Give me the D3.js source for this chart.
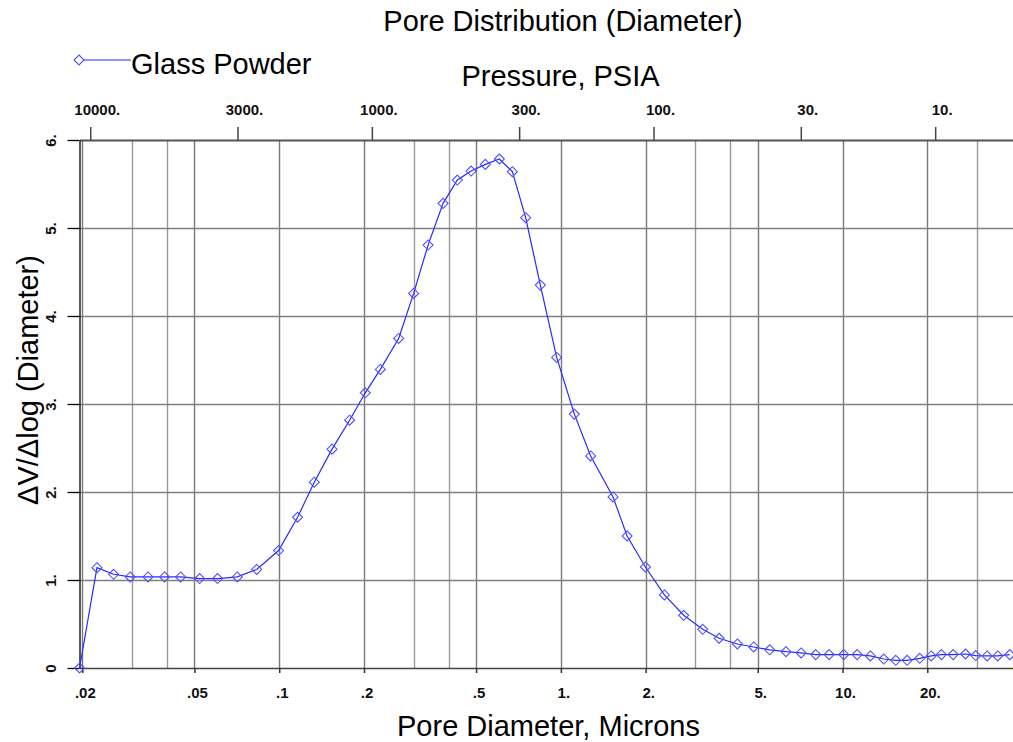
<!DOCTYPE html>
<html>
<head>
<meta charset="utf-8">
<script src="https://cdn.jsdelivr.net/npm/d3@7"></script>
<style>
  html, body { margin: 0; padding: 0; background: #fff; }
  svg { display: block; font-family: "Liberation Sans", Arial, sans-serif; }
  .tick text { font-size: 15px; font-weight: bold; font-family: "Liberation Sans", Arial, sans-serif; }
</style>
</head>
<body>
<svg id="chart" width="1013" height="742"></svg>
<script>
// ---- Data ----
const seriesName = "Glass Powder";
const poreDiameter = [
  0.01955, 0.02254, 0.02582, 0.02959, 0.03420, 0.03917, 0.04466, 0.05218, 0.06042, 0.07099,
  0.08318, 0.09951, 0.1162, 0.1332, 0.1540, 0.1778, 0.2021, 0.2286, 0.2655, 0.3001,
  0.3377, 0.3817, 0.4290, 0.4800, 0.5394, 0.6047, 0.6727, 0.7499, 0.8456, 0.9663,
  1.1165, 1.2757, 1.5321, 1.7185, 1.9957, 2.331, 2.730, 3.189, 3.646, 4.235,
  4.838, 5.513, 6.301, 7.129, 8.031, 8.963, 10.10, 11.27, 12.56, 14.01,
  15.45, 16.96, 18.80, 20.64, 22.45, 24.71, 27.32, 29.72, 32.62, 35.57, 39.25
];
const dVdlogD = [
  0.00, 1.14, 1.065, 1.035, 1.035, 1.035, 1.035, 1.016, 1.016, 1.035,
  1.12, 1.335, 1.713, 2.111, 2.487, 2.816, 3.127, 3.393, 3.745, 4.257,
  4.806, 5.28, 5.545, 5.647, 5.723, 5.784, 5.64, 5.117, 4.351, 3.529,
  2.885, 2.41, 1.944, 1.50, 1.148, 0.83, 0.599, 0.44, 0.338, 0.273,
  0.239, 0.207, 0.186, 0.171, 0.152, 0.152, 0.152, 0.152, 0.137, 0.102,
  0.087, 0.087, 0.11, 0.137, 0.152, 0.152, 0.159, 0.141, 0.137, 0.137, 0.152
];
const xDomain = [0.01954, 40.3];
const yDomain = [0, 6];
const xGridValues = [0.02, 0.03, 0.04, 0.05, 0.1, 0.2, 0.3, 0.4, 0.5, 1, 2, 3, 4, 5, 10, 20, 30];
const xTickValues = [0.02, 0.05, 0.1, 0.2, 0.5, 1, 2, 5, 10, 20];
const xTickLabels = [".02", ".05", ".1", ".2", ".5", "1.", "2.", "5.", "10.", "20."];
const pressureTickValues = [10000, 3000, 1000, 300, 100, 30, 10];
const pressureTickLabels = ["10000.", "3000.", "1000.", "300.", "100.", "30.", "10."];
const washburnConst = 213.3; // diameter (microns) = const / pressure (psia)
const yTickValues = [0, 1, 2, 3, 4, 5, 6];
const yTickLabels = ["0", "1.", "2.", "3.", "4.", "5.", "6."];
const title = "Pore Distribution (Diameter)";
const topAxisTitle = "Pressure, PSIA";
const xAxisTitle = "Pore Diameter, Microns";
const yAxisTitle = "\u0394V/\u0394log (Diameter)";

// ---- Layout ----
const plot = { left: 79.5, right: 1013, top: 140, bottom: 668 };
const svg = d3.select("#chart");
svg.append("rect").attr("width", 1013).attr("height", 742).attr("fill", "#fff");

const x = d3.scaleLog().domain(xDomain).range([plot.left, plot.right]);
const y = d3.scaleLinear().domain(yDomain).range([plot.bottom, plot.top]);

const lineColor = "#2a2aff";
const markerColor = "#5050ff";

// gridlines
const grid = svg.append("g");
grid.selectAll("line.vg").data(xGridValues).enter().append("line")
  .attr("x1", d => Math.round(x(d)) + 0.5).attr("x2", d => Math.round(x(d)) + 0.5)
  .attr("y1", plot.top).attr("y2", plot.bottom)
  .attr("stroke", d => xTickValues.includes(d) ? "#7a7a7a" : "#999").attr("stroke-width", 1.4);
grid.selectAll("line.hg").data(yTickValues.filter(v => v > 0 && v < 6)).enter().append("line")
  .attr("x1", plot.left).attr("x2", plot.right)
  .attr("y1", d => Math.round(y(d)) + 0.5).attr("y2", d => Math.round(y(d)) + 0.5)
  .attr("stroke", "#7f7f7f").attr("stroke-width", 1.4);

// bottom axis
const xAxis = d3.axisBottom(x).tickValues(xTickValues)
  .tickFormat((d, i) => xTickLabels[i]).tickSize(5).tickSizeOuter(0).tickPadding(14);
const gx = svg.append("g").attr("transform", `translate(0,${plot.bottom})`).call(xAxis);
gx.select(".domain").attr("stroke", "#444").attr("stroke-width", 1.5);
gx.selectAll(".tick line").attr("stroke", "#333").attr("stroke-width", 1.5);
gx.selectAll(".tick text").attr("fill", "#111").attr("dx", 2.5);

// top axis (pressure)
const gt = svg.append("g").attr("transform", `translate(0,${plot.top})`);
const topAxis = d3.axisTop(x).tickValues(pressureTickValues.map(p => washburnConst / p))
  .tickFormat((d, i) => pressureTickLabels[i]).tickSize(13).tickSizeOuter(0).tickPadding(12);
gt.call(topAxis);
gt.select(".domain").attr("stroke", "#555").attr("stroke-width", 2);
gt.selectAll(".tick line").attr("stroke", "#444").attr("stroke-width", 1.5);
gt.selectAll(".tick text").attr("fill", "#111").attr("dx", 6.5);

// left axis
const gy = svg.append("g").attr("transform", `translate(${plot.left},0)`);
const yAxis = d3.axisLeft(y).tickValues(yTickValues).tickFormat((d, i) => yTickLabels[i])
  .tickSize(12).tickSizeOuter(0);
gy.call(yAxis);
gy.select(".domain").attr("stroke", "#000").attr("stroke-width", 1.3);
gy.selectAll(".tick line").attr("stroke", "#000").attr("stroke-width", 1.3);
gy.selectAll(".tick text")
  .attr("fill", "#111")
  .attr("x", null).attr("dy", null)
  .attr("text-anchor", "middle")
  .attr("transform", "translate(-24,0) rotate(-90)");

// series line
const pts = poreDiameter.map((d, i) => [d, dVdlogD[i]]);
svg.append("defs").append("clipPath").attr("id", "clip").append("rect")
  .attr("x", plot.left - 6).attr("y", plot.top - 10).attr("width", plot.right - plot.left + 6).attr("height", plot.bottom - plot.top + 16);
const series = svg.append("g").attr("clip-path", "url(#clip)");
series.append("path").datum(pts)
  .attr("d", d3.line().x(d => x(d[0])).y(d => y(d[1])))
  .attr("fill", "none").attr("stroke", lineColor).attr("stroke-width", 1.2);
const diamond = "M0,-5L5,0L0,5L-5,0Z";
series.selectAll("path.m").data(pts).enter().append("path")
  .attr("d", diamond)
  .attr("transform", d => `translate(${x(d[0])},${y(d[1])})`)
  .attr("fill", "none").attr("stroke", markerColor).attr("stroke-width", 1.1);

// titles
svg.append("text").attr("x", 563).attr("y", 31).attr("text-anchor", "middle")
  .attr("font-size", 29).text(title);
svg.append("text").attr("x", 560.5).attr("y", 86).attr("text-anchor", "middle")
  .attr("font-size", 29).text(topAxisTitle);
svg.append("text").attr("x", 548.5).attr("y", 736).attr("text-anchor", "middle")
  .attr("font-size", 29).text(xAxisTitle);
svg.append("text").attr("transform", `translate(38,${380}) rotate(-90)`).attr("text-anchor", "middle")
  .attr("font-size", 29).text(yAxisTitle);

// legend
const lg = svg.append("g");
lg.append("line").attr("x1", 79).attr("x2", 131).attr("y1", 60).attr("y2", 60)
  .attr("stroke", lineColor).attr("stroke-width", 1.2);
lg.append("path").attr("d", diamond).attr("transform", "translate(79,60)")
  .attr("fill", "#fff").attr("stroke", markerColor).attr("stroke-width", 1.1);
lg.append("text").attr("x", 131).attr("y", 74).attr("font-size", 29).text(seriesName);
</script>
</body>
</html>
